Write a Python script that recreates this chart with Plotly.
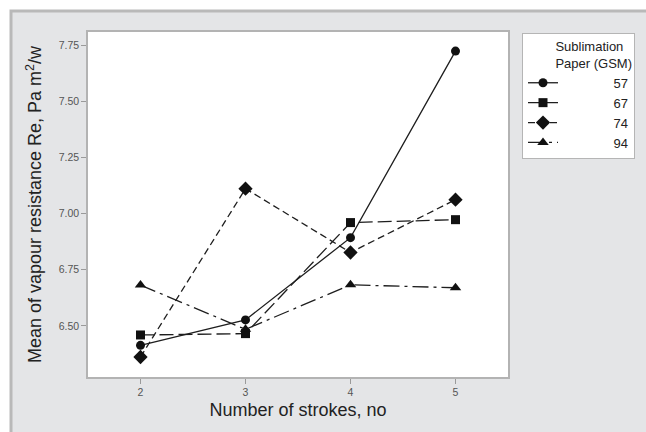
import plotly.graph_objects as go

strokes = [2, 3, 4, 5]
gsm_labels = ["57", "67", "74", "94"]
re_57 = [6.414, 6.527, 6.893, 7.723]
re_67 = [6.460, 6.466, 6.960, 6.973]
re_74 = [6.362, 7.111, 6.827, 7.062]
re_94 = [6.682, 6.485, 6.683, 6.670]
y_ticks = [6.50, 6.75, 7.00, 7.25, 7.50, 7.75]

series = [re_57, re_67, re_74, re_94]
symbols = ["circle", "square", "diamond", "triangle-up"]
sizes = [9, 9, 11, 10]
dashes = ["solid", "14px,5px", "7px,4px", "16px,5px,3px,5px"]

W, H = 646, 432
L, T = 88, 32
R, B = 646 - 508, 432 - 377
pw, ph = W - L - R, H - T - B

def px(x):
    return (x - L) / pw

def py(y):
    return (H - B - y) / ph

fig = go.Figure()
NB = "\u00a0"
for lab, vals, sym, sz, dash in zip(gsm_labels, series, symbols, sizes, dashes):
    fig.add_trace(go.Scatter(
        x=strokes, y=vals, name=NB * 14 + lab, mode="lines+markers",
        line=dict(color="#1e1e1e", width=1.3, dash=dash),
        marker=dict(symbol=sym, size=sz, color="#111111"),
    ))

fig.add_shape(type="rect", xref="paper", yref="paper",
              x0=px(11), x1=px(900), y0=py(900), y1=py(11),
              fillcolor="#e4e5e7", line=dict(color="#b9b9b9", width=3), layer="below")
fig.add_shape(type="rect", xref="paper", yref="paper",
              x0=0, x1=1, y0=0, y1=1,
              fillcolor="white", line=dict(width=0), layer="below")

axis_common = dict(
    showgrid=False, zeroline=False, showline=True, mirror=True,
    linecolor="#b3b3b3", linewidth=1.5, ticks="outside", ticklen=5,
    tickcolor="#9a9a9a", tickwidth=1, automargin=False,
    tickfont=dict(family="Liberation Sans, Arial, sans-serif", size=10.5, color="#555555"),
)

fig.update_layout(
    width=W, height=H,
    margin=dict(l=L, r=R, t=T, b=B, autoexpand=False),
    paper_bgcolor="white", plot_bgcolor="white",
    font=dict(family="Liberation Sans, Arial, sans-serif", color="#222222"),
    xaxis=dict(range=[1.5, 5.5], tickvals=strokes,
               title=dict(text="Number of strokes, no", standoff=6,
                          font=dict(size=18, color="#222222")),
               **axis_common),
    yaxis=dict(range=[6.273, 7.808], tickvals=y_ticks, tickformat=".2f",
               title=dict(text="Mean of vapour resistance Re, Pa m<sup>2</sup>/w", standoff=12,
                          font=dict(size=18, color="#222222")),
               **axis_common),
    legend=dict(
        x=px(522), y=py(33), xanchor="left", yanchor="top",
        bgcolor="white", bordercolor="#b5b5b5", borderwidth=1,
        font=dict(size=13, color="#222222"),
        title=dict(text="Sublimation<br>Paper (GSM)", side="top right",
                   font=dict(size=13, color="#222222")),
        tracegroupgap=0,
    ),
    showlegend=True,
)

fig.write_html(
    "out.html",
    config={"displayModeBar": False},
    post_script="document.body.style.margin='0';document.body.style.overflow='hidden';",
)
